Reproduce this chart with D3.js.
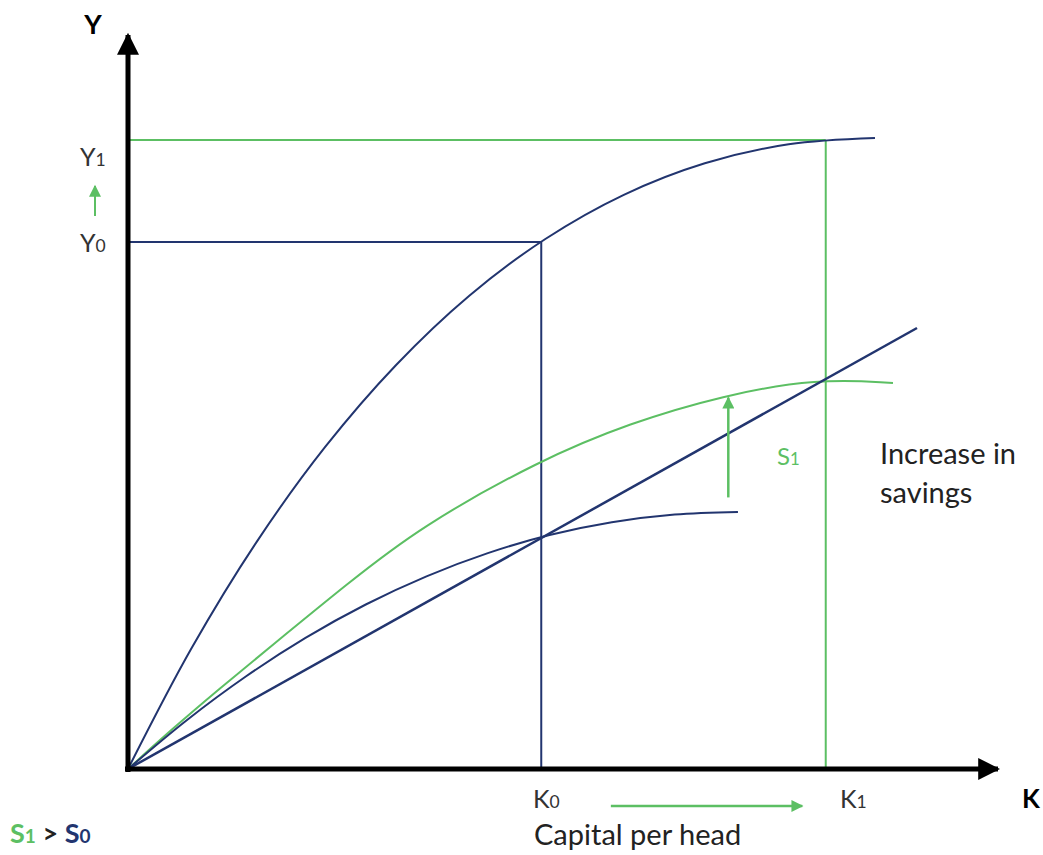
<!DOCTYPE html>
<html><head><meta charset="utf-8">
<script src="https://cdn.jsdelivr.net/npm/d3@7"></script>
<style>body{margin:0;background:#fff}svg{display:block}text{font-family:Lato,"Open Sans",sans-serif}</style>
</head><body>
<svg id="c" width="1043" height="855"></svg>
<script>
// Data (abstract units: K capital per head, Y output per head)
const K0 = 47.5, K1 = 80.2, Y0 = 71.8, Y1 = 85.7;
const productionCurve = [[0,0],[7.25,16.34],[14.79,30.95],[22.64,43.84],[30.79,55.01],[39.23,64.48],[47.97,72.21],[56.99,78.23],[66.3,82.53],[75.94,85.11],[85.86,85.97]];
const savingsS1 = [[0,0],[4.83,5.2],[10.57,11.0],[16.32,16.6],[25.17,25.2],[33.56,32.97],[47.36,42.1],[57.7,47.14],[68.39,50.9],[79.2,53.2],[87.93,52.6]];
const savingsS0 = [[0,0],[6.75,6.65],[13.54,12.6],[20.4,17.86],[27.33,22.41],[34.31,26.25],[41.36,29.41],[48.45,31.87],[55.61,33.61],[62.84,34.66],[70.11,35.01]];
const depreciationLine = [[0,0],[90.69,60.08]];
const navy = "#22356f", green = "#5cbf63";

const svg = d3.select("#c");
const x = d3.scaleLinear().domain([0,100]).range([128,998]);
const y = d3.scaleLinear().domain([0,100]).range([769,35]);
const line = d3.line().x(d=>x(d[0])).y(d=>y(d[1])).curve(d3.curveCatmullRom.alpha(0.5));
const smooth = d3.line().x(d=>x(d[0])).y(d=>y(d[1])).curve(d3.curveBasis);

const defs = svg.append("defs");
function marker(id, color, w, h){
  defs.append("marker").attr("id",id).attr("viewBox","0 0 10 10").attr("refX",9).attr("refY",5)
    .attr("markerWidth",w).attr("markerHeight",h).attr("markerUnits","userSpaceOnUse").attr("orient","auto")
    .append("path").attr("d","M0,0L10,5L0,10Z").attr("fill",color);
}
marker("ab","#000",22,22);
marker("ag",green,16,12);

// guide lines
svg.append("line").attr("x1",x(0)).attr("x2",x(K0)).attr("y1",y(Y0)).attr("y2",y(Y0)).attr("stroke",navy).attr("stroke-width",2);
svg.append("line").attr("x1",x(K0)).attr("x2",x(K0)).attr("y1",y(Y0)).attr("y2",y(0)).attr("stroke",navy).attr("stroke-width",2);
svg.append("line").attr("x1",x(0)).attr("x2",x(K1)).attr("y1",y(Y1)).attr("y2",y(Y1)).attr("stroke",green).attr("stroke-width",2);
svg.append("line").attr("x1",x(K1)).attr("x2",x(K1)).attr("y1",y(Y1)).attr("y2",y(0)).attr("stroke",green).attr("stroke-width",2);

// curves
svg.append("path").attr("d",line(productionCurve)).attr("fill","none").attr("stroke",navy).attr("stroke-width",2);
svg.append("path").attr("d",smooth(savingsS1)).attr("fill","none").attr("stroke",green).attr("stroke-width",2);
svg.append("path").attr("d",line(savingsS0)).attr("fill","none").attr("stroke",navy).attr("stroke-width",2);
svg.append("path").attr("d",d3.line().x(d=>x(d[0])).y(d=>y(d[1]))(depreciationLine)).attr("fill","none").attr("stroke",navy).attr("stroke-width",2.5);

// axes
svg.append("line").attr("x1",x(0)).attr("x2",x(0)).attr("y1",y(0)+3).attr("y2",y(100)).attr("stroke","#000").attr("stroke-width",5).attr("marker-end","url(#ab)");
svg.append("line").attr("x1",x(0)-3).attr("x2",x(100)).attr("y1",y(0)).attr("y2",y(0)).attr("stroke","#000").attr("stroke-width",5).attr("marker-end","url(#ab)");

// green arrows
svg.append("line").attr("x1",95).attr("x2",95).attr("y1",216).attr("y2",186).attr("stroke",green).attr("stroke-width",2).attr("marker-end","url(#ag)");
svg.append("line").attr("x1",x(69)).attr("x2",x(69)).attr("y1",y(37)).attr("y2",y(50.6)).attr("stroke",green).attr("stroke-width",2.5).attr("marker-end","url(#ag)");
svg.append("line").attr("x1",x(55.5)).attr("x2",x(77.5)).attr("y1",806).attr("y2",806).attr("stroke",green).attr("stroke-width",2.5).attr("marker-end","url(#ag)");

// labels
function sub(xx, yy, main, s, color, size, weight){
  const tx = svg.append("text").attr("x",xx).attr("y",yy).attr("fill",color).attr("font-size",size).attr("font-weight",weight||"normal");
  tx.append("tspan").text(main);
  tx.append("tspan").attr("font-size",size*0.7).text(s);
  return tx;
}
svg.append("text").attr("x",93).attr("y",34).attr("font-size",27).attr("font-weight","bold").attr("text-anchor","middle").text("Y");
svg.append("text").attr("x",1031).attr("y",808).attr("font-size",26).attr("font-weight","bold").attr("text-anchor","middle").text("K");
sub(80,166,"Y","1","#333",25);
sub(80,252,"Y","0","#333",25);
sub(533,808,"K","0","#333",25);
sub(840,808,"K","1","#333",25);
sub(777,465,"S","1",green,24);
svg.append("text").attr("x",534).attr("y",845).attr("font-size",29).attr("fill","#222").text("Capital per head");
svg.append("text").attr("x",880).attr("y",464).attr("font-size",29).attr("fill","#222").text("Increase in");
svg.append("text").attr("x",880).attr("y",503).attr("font-size",29).attr("fill","#222").text("savings");
const leg = svg.append("text").attr("x",10).attr("y",843).attr("font-size",27).attr("font-weight","bold");
leg.append("tspan").attr("fill",green).text("S");
leg.append("tspan").attr("fill",green).attr("font-size",19).text("1");
leg.append("tspan").attr("fill","#222").text(" > ");
leg.append("tspan").attr("fill",navy).text("S");
leg.append("tspan").attr("fill",navy).attr("font-size",19).text("0");
</script>
</body></html>
